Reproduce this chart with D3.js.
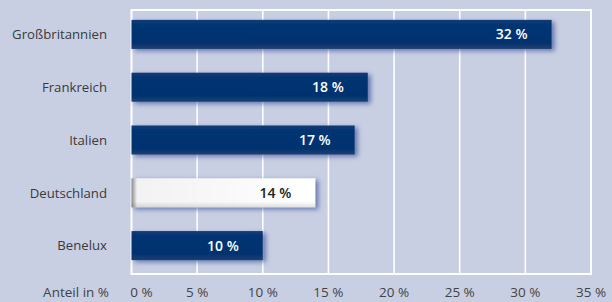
<!DOCTYPE html>
<html>
<head>
<meta charset="utf-8">
<script src="https://cdn.jsdelivr.net/npm/d3@7"></script>
<style>
  html, body { margin: 0; padding: 0; background: #c9cfe3; }
  svg { display: block; }
  text { font-family: "Open Sans", sans-serif; }
</style>
</head>
<body>
<svg id="svg" width="612" height="302"></svg>
<script>
// data
var countries = ["Großbritannien", "Frankreich", "Italien", "Deutschland", "Benelux"];
var shares = [32, 18, 17, 14, 10];
var highlight = ["Deutschland"];
var xTicks = [0, 5, 10, 15, 20, 25, 30, 35];

var svg = d3.select("#svg");
var defs = svg.append("defs");

// soft shadow behind bars
var f = defs.append("filter").attr("id", "shadow")
    .attr("x", "-5%").attr("y", "-40%").attr("width", "115%").attr("height", "190%");
f.append("feGaussianBlur").attr("in", "SourceAlpha").attr("stdDeviation", 2.8).attr("result", "b");
f.append("feOffset").attr("dx", 2.5).attr("dy", 2).attr("result", "o");
f.append("feFlood").attr("flood-color", "#4860a4").attr("flood-opacity", 0.8);
f.append("feComposite").attr("in2", "o").attr("operator", "in").attr("result", "s");
var m = f.append("feMerge");
m.append("feMergeNode").attr("in", "s");
m.append("feMergeNode").attr("in", "SourceGraphic");

var navy = defs.append("linearGradient").attr("id", "navy")
    .attr("x1", 0).attr("y1", 0).attr("x2", 0).attr("y2", 1);
navy.append("stop").attr("offset", "0%").attr("stop-color", "#113d78");
navy.append("stop").attr("offset", "15%").attr("stop-color", "#053473");
navy.append("stop").attr("offset", "80%").attr("stop-color", "#023370");
navy.append("stop").attr("offset", "100%").attr("stop-color", "#1e3f70");

var white = defs.append("linearGradient").attr("id", "white")
    .attr("x1", 0).attr("y1", 0).attr("x2", 1).attr("y2", 0);
white.append("stop").attr("offset", "0%").attr("stop-color", "#8a8a8a");
white.append("stop").attr("offset", "3%").attr("stop-color", "#f2f2f2");
white.append("stop").attr("offset", "100%").attr("stop-color", "#ffffff");

var whiteV = defs.append("linearGradient").attr("id", "whiteV")
    .attr("x1", 0).attr("y1", 0).attr("x2", 0).attr("y2", 1);
whiteV.append("stop").attr("offset", "80%").attr("stop-color", "#000").attr("stop-opacity", 0);
whiteV.append("stop").attr("offset", "100%").attr("stop-color", "#000").attr("stop-opacity", 0.12);

var x = d3.scaleLinear().domain([0, 35]).range([131.5, 591]);
var y = d3.scaleBand().domain(countries).range([8, 272]).paddingInner(0.45).paddingOuter(0.225);

// plot frame + grid
svg.append("rect")
    .attr("x", x(0)).attr("y", 10)
    .attr("width", x(35) - x(0)).attr("height", 264)
    .attr("fill", "none").attr("stroke", "#fff").attr("stroke-width", 2);

svg.append("g").selectAll("line").data(xTicks.slice(1, -1)).join("line")
    .attr("x1", function(d) { return x(d); }).attr("x2", function(d) { return x(d); })
    .attr("y1", 10).attr("y2", 274)
    .attr("stroke", "#fff").attr("stroke-width", 1.6);

// bars
var bars = svg.append("g").selectAll("g").data(countries).join("g");

bars.append("rect")
    .attr("x", x(0))
    .attr("y", function(d) { return y(d); })
    .attr("width", function(d, i) { return x(shares[i]) - x(0); })
    .attr("height", y.bandwidth())
    .attr("fill", function(d) { return highlight.indexOf(d) >= 0 ? "url(#white)" : "url(#navy)"; })
    .attr("filter", "url(#shadow)");

bars.filter(function(d) { return highlight.indexOf(d) >= 0; }).append("rect")
    .attr("x", x(0))
    .attr("y", function(d) { return y(d); })
    .attr("width", function(d) { return x(shares[countries.indexOf(d)]) - x(0); })
    .attr("height", y.bandwidth())
    .attr("fill", "url(#whiteV)");

bars.append("text")
    .attr("x", function(d, i) { return x(shares[i]) - 24; })
    .attr("y", function(d) { return y(d) + y.bandwidth() / 2; })
    .attr("dy", "0.36em")
    .attr("text-anchor", "end")
    .attr("font-size", 14).attr("font-weight", 600)
    .attr("fill", function(d) { return highlight.indexOf(d) >= 0 ? "#222" : "#fff"; })
    .text(function(d, i) { return shares[i] + " %"; });

// category labels
svg.append("g").selectAll("text").data(countries).join("text")
    .attr("x", 107)
    .attr("y", function(d) { return y(d) + y.bandwidth() / 2; })
    .attr("dy", "0.36em")
    .attr("text-anchor", "end")
    .attr("font-size", 13.2).attr("fill", "#3a3a3a")
    .text(function(d) { return d; });

// x tick labels
svg.append("g").selectAll("text").data(xTicks).join("text")
    .attr("x", function(d) { return d === 0 ? x(d) + 10 : x(d); })
    .attr("y", 297)
    .attr("text-anchor", "middle")
    .attr("font-size", 13.5).attr("fill", "#444")
    .text(function(d) { return d + " %"; });

svg.append("text")
    .attr("x", 109).attr("y", 297)
    .attr("text-anchor", "end")
    .attr("font-size", 13.5).attr("fill", "#444")
    .text("Anteil in %");
</script>
</body>
</html>
